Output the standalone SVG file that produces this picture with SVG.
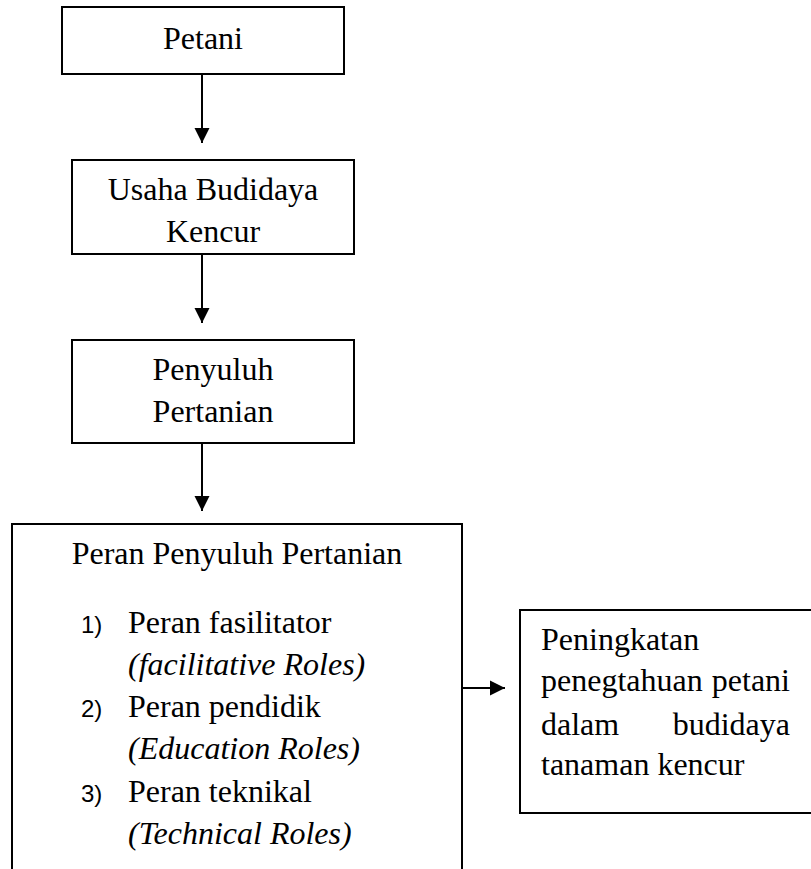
<svg xmlns="http://www.w3.org/2000/svg" width="811" height="869" viewBox="0 0 811 869">
<style>
.box{fill:none;stroke:#000;stroke-width:2}
.conn{fill:none;stroke:#000;stroke-width:2}
.t{font-family:"Liberation Serif","Times New Roman",serif;font-size:32px;fill:#000}
.c{text-anchor:middle}
.i{font-style:italic}
.n{font-family:"Liberation Sans",Arial,sans-serif;font-size:24px;fill:#000}
</style>
<defs>
<marker id="ah" markerUnits="userSpaceOnUse" markerWidth="16" markerHeight="16" refX="15" refY="8" orient="auto">
<path d="M0,0.5 L15,8 L0,15.5 z" fill="#000"/>
</marker>
</defs>
<rect width="811" height="869" fill="#fff"/>
<g id="petani">
<rect class="box" x="62" y="7" width="282" height="67"/>
<text class="t c" x="203" y="49">Petani</text>
</g>
<g id="usaha">
<rect class="box" x="72" y="160" width="282" height="94"/>
<text class="t c" x="213" y="200">Usaha Budidaya</text>
<text class="t c" x="213" y="242">Kencur</text>
</g>
<g id="penyuluh">
<rect class="box" x="72" y="340" width="282" height="103"/>
<text class="t c" x="213" y="380">Penyuluh</text>
<text class="t c" x="213" y="422">Pertanian</text>
</g>
<g id="peran">
<path class="box" d="M12,872 V524 H462 V872"/>
<text class="t c" x="237" y="564">Peran Penyuluh Pertanian</text>
<text class="n" x="81" y="633">1)</text>
<text class="t" x="128" y="633">Peran fasilitator</text>
<text class="t i" x="128" y="675">(facilitative Roles)</text>
<text class="n" x="81" y="717">2)</text>
<text class="t" x="128" y="717">Peran pendidik</text>
<text class="t i" x="128" y="759">(Education Roles)</text>
<text class="n" x="81" y="802">3)</text>
<text class="t" x="128" y="802">Peran teknikal</text>
<text class="t i" x="128" y="844">(Technical Roles)</text>
</g>
<g id="peningkatan">
<path class="box" d="M814,610 H520 V813 H814"/>
<text class="t" x="541" y="650">Peningkatan</text>
<text class="t" x="541" y="691">penegtahuan</text>
<text class="t" x="790" y="691" text-anchor="end">petani</text>
<text class="t" x="541" y="735">dalam</text>
<text class="t" x="790" y="735" text-anchor="end">budidaya</text>
<text class="t" x="541" y="775">tanaman kencur</text>
</g>
<g id="connectors">
<line class="conn" x1="202" y1="74" x2="202" y2="143" marker-end="url(#ah)"/>
<line class="conn" x1="202" y1="254" x2="202" y2="323" marker-end="url(#ah)"/>
<line class="conn" x1="202" y1="443" x2="202" y2="511" marker-end="url(#ah)"/>
<line class="conn" x1="462" y1="688" x2="505" y2="688" marker-end="url(#ah)"/>
</g>
</svg>
